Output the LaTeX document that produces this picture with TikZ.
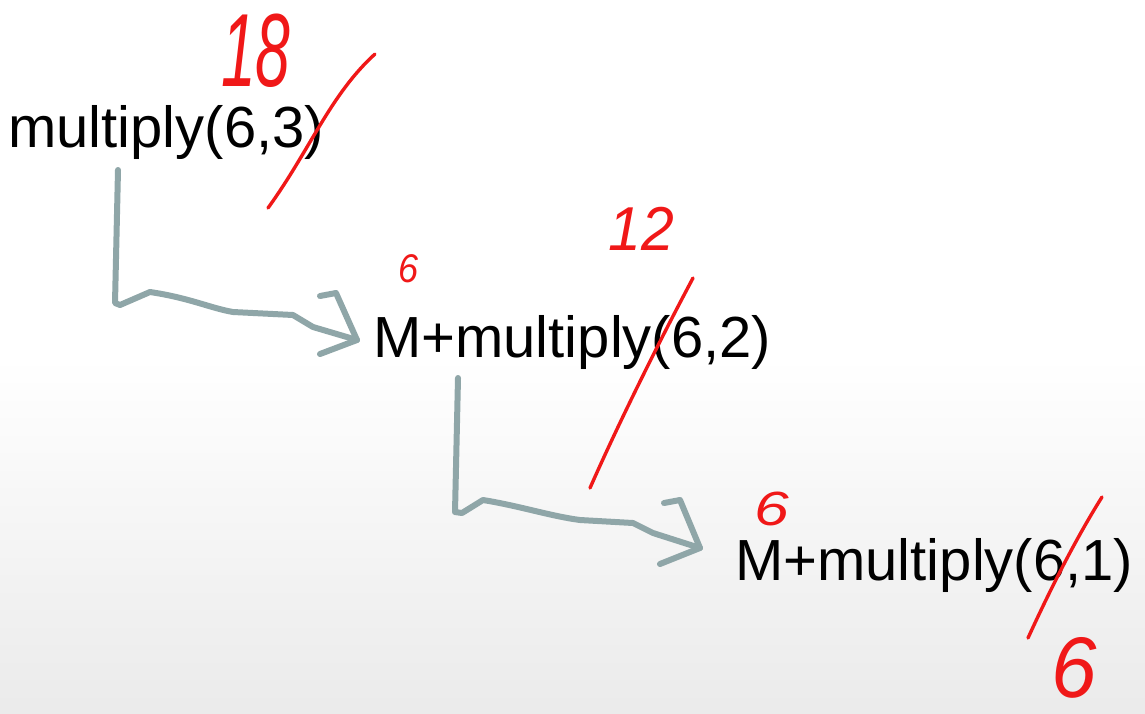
\documentclass[tikz,border=0pt]{standalone}
\usepackage{fontspec}
\setmainfont{Liberation Sans}
\definecolor{arrowgray}{HTML}{8FA6A8}
\definecolor{inkred}{HTML}{F01818}
\begin{document}
\begin{tikzpicture}[x=1pt,y=-1pt,
  call/.style={inner sep=0pt,anchor=base west,font=\fontsize{58}{64}\selectfont,text=black},
  hand/.style={inner sep=0pt,text=inkred,font=\itshape},
  strike/.style={draw=inkred,line width=3.4pt,line cap=round},
  flow/.style={draw=arrowgray,line width=6pt,line cap=round,line join=round}]
\shade[top color=white,bottom color=black!8,middle color=white,shading angle=0] (0,0) rectangle (1145,713);
\useasboundingbox (0,0) rectangle (1145,713);
\clip (0,0) rectangle (1145,713);
% calls
\node[call] (c1) at (8,147) {multiply(6,3)};
\node[call] (c2) at (373,357) {M+multiply(6,2)};
\node[call] (c3) at (735,580) {M+multiply(6,1)};
% handwritten results
\node[hand,font=\itshape\fontsize{104}{106}\selectfont,xscale=0.6,transform shape,anchor=base] (r1) at (256,86) {18};
\node[hand,font=\itshape\fontsize{62}{64}\selectfont,xscale=0.95,transform shape,anchor=base] (r2) at (641,250) {12};
\node[hand,font=\itshape\fontsize{40}{42}\selectfont,xscale=0.9,transform shape,anchor=base] (m2) at (409,282) {6};
\node[hand,font=\itshape\fontsize{48}{50}\selectfont,xscale=1.3,transform shape,anchor=base] (m3) at (772,525) {6};
\node[hand,font=\itshape\fontsize{86}{88}\selectfont,xscale=0.95,transform shape,anchor=base] (r3) at (1074,697) {6};
% strike-through slashes
\coordinate (s1a) at (268,208); \coordinate (s1b) at (375,54);
\coordinate (s2a) at (590,488); \coordinate (s2b) at (693,278);
\coordinate (s3a) at (1028,638); \coordinate (s3b) at (1102,497);
\draw[strike] (s1a) .. controls (310,150) and (330,95) .. (s1b);
\draw[strike] (s2a) .. controls (620,420) and (660,340) .. (s2b);
\draw[strike] (s3a) .. controls (1050,590) and (1075,540) .. (s3b);
% arrows
\coordinate (a1s) at (118,170); \coordinate (a1t) at (357,340);
\draw[flow] (a1s) -- (115,303) -- (120,305) -- (150,292)
  .. controls (190,298) and (210,308) .. (233,312) -- (293,315) -- (313,327) -- (a1t);
\draw[flow] (320,296) -- (336,293) -- (a1t) -- (320,354);
\coordinate (a2s) at (458,378); \coordinate (a2t) at (700,548);
\draw[flow] (a2s) -- (455,512) -- (462,513) -- (483,500)
  .. controls (520,506) and (550,516) .. (580,520) -- (633,523) -- (653,533) -- (a2t);
\draw[flow] (664,503) -- (680,500) -- (a2t) -- (660,564);
\end{tikzpicture}
\end{document}
